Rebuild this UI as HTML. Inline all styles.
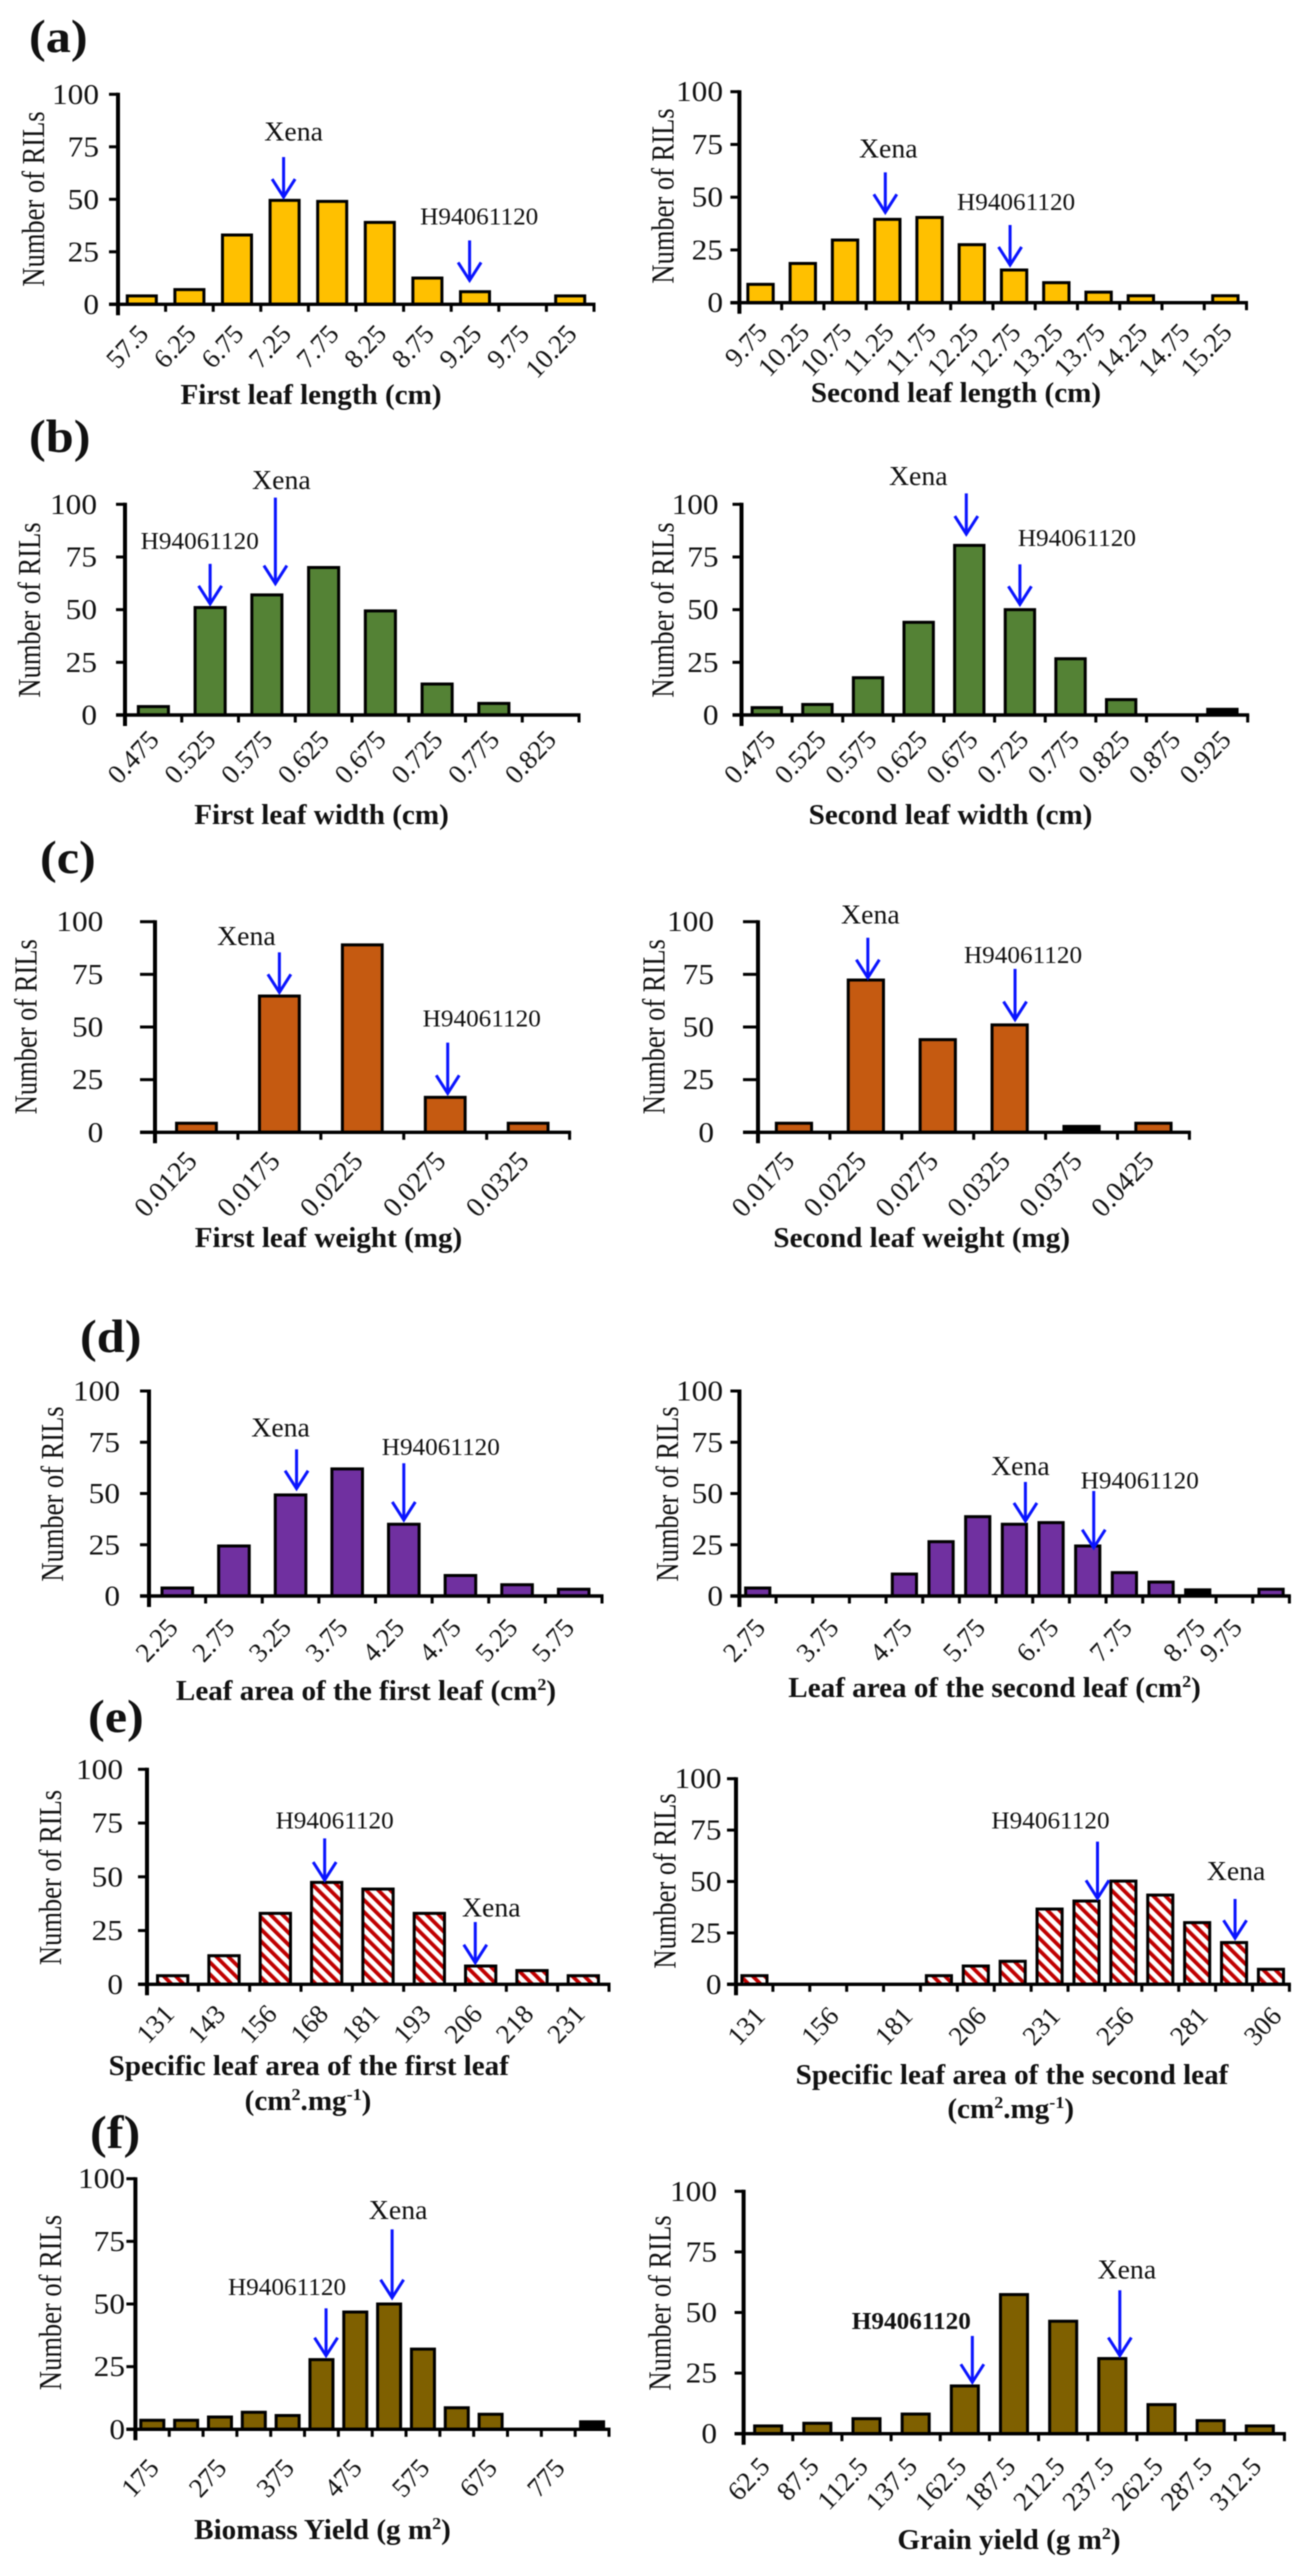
<!DOCTYPE html>
<html>
<head>
<meta charset="utf-8">
<title>Distribution of RILs</title>
<style>
html,body{margin:0;padding:0;background:#fff;}
svg{display:block;filter:blur(0.6px);}
text{font-family:"Liberation Serif",serif;fill:#111;}
</style>
</head>
<body>
<svg id="figure" xmlns="http://www.w3.org/2000/svg" width="1308" height="2573" viewBox="0 0 1308 2573">
<defs>
<pattern id="hatch" patternUnits="userSpaceOnUse" width="8.5" height="8.5" patternTransform="rotate(-45)">
<rect width="8.5" height="8.5" fill="#fff"/>
<rect width="3.8" height="8.5" fill="#c00000"/>
</pattern>
</defs>
</svg>
<script>
const yTickValues = [0, 25, 50, 75, 100];

const a1Categories = ['57.5','6.25','6.75','7.25','7.75','8.25','8.75','9.25','9.75','10.25'];
const a1Values = [4, 7, 33, 49.5, 49, 39, 12.5, 6, 0, 4];
const a2Categories = ['9.75','10.25','10.75','11.25','11.75','12.25','12.75','13.25','13.75','14.25','14.75','15.25'];
const a2Values = [8.7, 18.6, 29.7, 39.5, 40.4, 27.5, 15.5, 9.5, 5, 3.3, 0, 3.3];
const b1Categories = ['0.475','0.525','0.575','0.625','0.675','0.725','0.775','0.825'];
const b1Values = [4, 51, 57, 70, 49.4, 14.7, 5.5, 0];
const b2Categories = ['0.475','0.525','0.575','0.625','0.675','0.725','0.775','0.825','0.875','0.925'];
const b2Values = [3.5, 5, 17.7, 44, 80.5, 50, 26.7, 7.3, 0, 2.7];
const c1Categories = ['0.0125','0.0175','0.0225','0.0275','0.0325'];
const c1Values = [4.3, 64.7, 89, 16.6, 4.3];
const c2Categories = ['0.0175','0.0225','0.0275','0.0325','0.0375','0.0425'];
const c2Values = [4.3, 72.3, 44, 51, 2.8, 4.3];
const d1Categories = ['2.25','2.75','3.25','3.75','4.25','4.75','5.25','5.75'];
const d1Values = [3.9, 24.4, 49.3, 62, 35, 10, 5.5, 3.3];
const d2Categories = ['2.75','','3.75','','4.75','','5.75','','6.75','','7.75','','8.75','9.75',''];
const d2Values = [3.9, 0, 0, 0, 10.7, 26.5, 38.7, 35, 35.8, 24.4, 11.4, 6.8, 3, 0, 3.3];
const e1Categories = ['131','143','156','168','181','193','206','218','231'];
const e1Values = [4, 13.3, 33, 47.4, 44.3, 33, 8.5, 6.4, 4];
const e2Categories = ['131','','156','','181','','206','','231','','256','','281','','306'];
const e2Values = [4.2, 0, 0, 0, 0, 4.2, 8.9, 11.2, 36.6, 40.5, 50.2, 43.4, 30, 20.3, 7.3];
const f1Categories = ['175','','275','','375','','475','','575','','675','','775',''];
const f1Values = [3.6, 3.6, 4.9, 6.8, 5.5, 27.8, 46.8, 50, 32, 8.6, 6, 0, 0, 3];
const f2Categories = ['62.5','87.5','112.5','137.5','162.5','187.5','212.5','237.5','262.5','287.5','312.5'];
const f2Values = [3.2, 4.3, 6.2, 8.1, 19.7, 57.4, 46.4, 31, 12, 5.4, 3.2];

const panelLetters = [
  ['(a)', 29, 52], ['(b)', 29, 452], ['(c)', 40, 873],
  ['(d)', 80, 1352], ['(e)', 88, 1732], ['(f)', 90, 2148]
];

const NS = 'http://www.w3.org/2000/svg';
const root = document.getElementById('figure');

function shape(tag, attrs, name) {
  const el = document.createElementNS(NS, tag);
  for (const k in attrs) el.setAttribute(k, attrs[k]);
  
  
  root.appendChild(el);
  return el;
}

function label(x, y, str, size, anchor, weight, rot, sx, name) {
  const el = document.createElementNS(NS, 'text');
  el.setAttribute('transform', 'translate(' + x + ',' + y + ') scale(' + sx + ',1) rotate(' + rot + ')');
  el.setAttribute('font-size', size);
  el.setAttribute('text-anchor', anchor);
  el.setAttribute('font-weight', weight);
  
  
  const parts = str.split('^');
  let raised = false;
  parts.forEach(function (p, i) {
    const t = document.createElementNS(NS, 'tspan');
    t.textContent = p;
    if (i % 2 === 1) {
      t.setAttribute('dy', -size * 0.36);
      t.setAttribute('font-size', size * 0.62);
      raised = true;
    } else if (raised) {
      t.setAttribute('dy', size * 0.36);
      raised = false;
    }
    el.appendChild(t);
  });
  root.appendChild(el);
  return el;
}

function drawChart(c) {
  const n = c.categories.length;
  const slot = (c.x1 - c.x0) / n;
  const xCenter = function (i) { return c.x0 + (i + 0.5) * slot; };
  const yScale = function (v) { return c.y0 - (c.y0 - c.y100) * v / 100; };
  const barW = slot * c.barFrac;

  c.values.forEach(function (v, i) {
    if (v <= 0) return;
    const top = yScale(v);
    const fill = v <= 3 ? '#000' : c.fill;
    shape('rect', {
      x: xCenter(i) - barW / 2, y: top, width: barW, height: c.y0 - top,
      fill: fill, stroke: '#000', 'stroke-width': 3
    }, c.id + '-bar-' + i);
  });

  shape('line', { x1: c.x0, y1: c.y100 - 1.5, x2: c.x0, y2: c.y0 + 11, stroke: '#000', 'stroke-width': 4 }, c.id + '-y-axis');
  shape('line', { x1: c.x0 - c.tickL, y1: c.y0, x2: c.x1 + 1.5, y2: c.y0, stroke: '#000', 'stroke-width': 3.4 }, c.id + '-x-axis');

  yTickValues.forEach(function (v) {
    const y = yScale(v);
    shape('line', { x1: c.x0 - c.tickL, y1: y, x2: c.x0, y2: y, stroke: '#000', 'stroke-width': 3 }, c.id + '-y-tick-' + v);
    label(c.yLabelRight, y + 9.5, String(v), 28.5, 'end', 'normal', 0, 1.1, c.id + '-y-tick-label-' + v);
  });

  for (let i = 1; i <= n; i++) {
    const tx = c.x0 + i * slot;
    shape('line', { x1: tx, y1: c.y0, x2: tx, y2: c.y0 + 7.5, stroke: '#000', 'stroke-width': 3 }, c.id + '-x-tick-' + i);
  }

  c.categories.forEach(function (s, i) {
    if (!s) return;
    label(xCenter(i) + c.lblDx, c.y0 + c.lblDy, s, c.lblSize, 'end', 'normal', -47, 1, c.id + '-x-tick-label-' + s);
  });

  label(c.yTitleX, c.yTitleY, 'Number of RILs', 26.5, 'middle', 'normal', -90, 1.2, c.id + '-y-axis-title');
  c.titles.forEach(function (t, i) {
    label(t[1], t[2], t[0], 28, 'middle', 'bold', 0, 1.04, c.id + '-x-axis-title-' + i);
  });

  c.arrows.forEach(function (a) {
    const ax = xCenter(a.slot) + a.dx;
    const tip = yScale(c.values[a.slot]) - a.gap;
    const tail = tip - a.len;
    const key = c.id + '-' + (a.text === 'Xena' ? 'xena' : 'h94061120');
    shape('line', { x1: ax, y1: tail, x2: ax, y2: tip, stroke: '#0a14ff', 'stroke-width': 3 }, key + '-arrow-shaft');
    shape('polyline', {
      points: (ax - 11.5) + ',' + (tip - 18) + ' ' + ax + ',' + tip + ' ' + (ax + 11.5) + ',' + (tip - 18),
      fill: 'none', stroke: '#0a14ff', 'stroke-width': 3
    }, key + '-arrow-head');
    if (a.text === 'Xena') {
      label(ax + a.tx, tail - a.ty, a.text, 27, 'middle', 'normal', 0, 1.03, key + '-label');
    } else {
      label(ax + a.tx, tail - a.ty, a.text, 24.5, 'middle', a.bold ? 'bold' : 'normal', 0, 1.03, key + '-label');
    }
  });
}

const YELLOW = '#ffc000', GREEN = '#548235', ORANGE = '#c55a11', PURPLE = '#7030a0', BROWN = '#7f6000', HATCH = 'url(#hatch)';

const charts = [
  { id:'first-leaf-length', categories:a1Categories, values:a1Values, fill:YELLOW, x0:118, x1:594, y100:94.3, y0:304.3, barFrac:0.61, tickL:9, yLabelRight:99, yTitleX:44, yTitleY:199, lblDx:8, lblDy:31, lblSize:27,
    titles:[['First leaf length (cm)',311,404]],
    arrows:[{text:'Xena',slot:3,dx:-1,gap:3.3,len:40,tx:10,ty:16.7},{text:'H94061120',slot:7,dx:-5.4,gap:11.3,len:40,tx:9.6,ty:16}] },
  { id:'second-leaf-length', categories:a2Categories, values:a2Values, fill:YELLOW, x0:739.4, x1:1246.5, y100:91.7, y0:302.7, barFrac:0.6, tickL:9, yLabelRight:723, yTitleX:673.6, yTitleY:196, lblDx:8, lblDy:31, lblSize:27,
    titles:[['Second leaf length (cm)',956,402]],
    arrows:[{text:'Xena',slot:3,dx:-2,gap:7,len:40,tx:3,ty:15},{text:'H94061120',slot:6,dx:-4,gap:5,len:40,tx:6,ty:15}] },
  { id:'first-leaf-width', categories:b1Categories, values:b1Values, fill:GREEN, x0:125, x1:579, y100:504.3, y0:715, barFrac:0.53, tickL:9, yLabelRight:97, yTitleX:40, yTitleY:610, lblDx:7, lblDy:26, lblSize:27,
    titles:[['First leaf width (cm)',321.5,824]],
    arrows:[{text:'H94061120',slot:1,dx:0,gap:3.7,len:40,tx:-10.4,ty:14.7},{text:'Xena',slot:2,dx:8.5,gap:11.3,len:86,tx:6,ty:8.7}] },
  { id:'second-leaf-width', categories:b2Categories, values:b2Values, fill:GREEN, x0:741.5, x1:1247.7, y100:504.3, y0:715, barFrac:0.58, tickL:9, yLabelRight:718.6, yTitleX:673.6, yTitleY:610, lblDx:10, lblDy:26, lblSize:27,
    titles:[['Second leaf width (cm)',950.5,824]],
    arrows:[{text:'Xena',slot:4,dx:-3,gap:11.3,len:40.7,tx:-48,ty:8.3},{text:'H94061120',slot:5,dx:0,gap:5.3,len:40,tx:57,ty:18.3}] },
  { id:'first-leaf-weight', categories:c1Categories, values:c1Values, fill:ORANGE, x0:155, x1:569.6, y100:921.7, y0:1132.3, barFrac:0.48, tickL:15, yLabelRight:103.3, yTitleX:36.7, yTitleY:1026.7, lblDx:2, lblDy:30, lblSize:28,
    titles:[['First leaf weight (mg)',328.5,1247]],
    arrows:[{text:'Xena',slot:1,dx:0,gap:3.7,len:40,tx:-33,ty:7.3},{text:'H94061120',slot:3,dx:2.5,gap:4,len:50.7,tx:34,ty:16}] },
  { id:'second-leaf-weight', categories:c2Categories, values:c2Values, fill:ORANGE, x0:758, x1:1189.4, y100:921.7, y0:1132.3, barFrac:0.49, tickL:15, yLabelRight:714, yTitleX:664.4, yTitleY:1026.7, lblDx:2, lblDy:30, lblSize:28,
    titles:[['Second leaf weight (mg)',921.7,1247]],
    arrows:[{text:'Xena',slot:1,dx:2,gap:2.3,len:40,tx:2.5,ty:14.3},{text:'H94061120',slot:3,dx:5.4,gap:5.3,len:50.7,tx:8,ty:5.7}] },
  { id:'leaf-area-first', categories:d1Categories, values:d1Values, fill:PURPLE, x0:149, x1:602, y100:1391, y0:1596, barFrac:0.54, tickL:9, yLabelRight:120, yTitleX:63, yTitleY:1494, lblDx:2, lblDy:33, lblSize:27,
    titles:[['Leaf area of the first leaf (cm^2^)',366,1700]],
    arrows:[{text:'Xena',slot:2,dx:6,gap:6.3,len:39.3,tx:-16,ty:12.7},{text:'H94061120',slot:4,dx:0,gap:4.3,len:56.7,tx:37,ty:8.3}] },
  { id:'leaf-area-second', categories:d2Categories, values:d2Values, fill:PURPLE, x0:739.4, x1:1289.4, y100:1391, y0:1596, barFrac:0.66, tickL:9, yLabelRight:723, yTitleX:677.8, yTitleY:1494, lblDx:9, lblDy:33, lblSize:27,
    titles:[['Leaf area of the second leaf (cm^2^)',994.6,1697]],
    arrows:[{text:'Xena',slot:7,dx:11,gap:3.3,len:39,tx:-5,ty:7},{text:'H94061120',slot:9,dx:6,gap:-1.7,len:56.7,tx:46,ty:2.7}] },
  { id:'specific-leaf-area-first', categories:e1Categories, values:e1Values, fill:HATCH, x0:147, x1:609, y100:1769.3, y0:1984.3, barFrac:0.59, tickL:9, yLabelRight:123, yTitleX:61, yTitleY:1877.5, lblDx:3, lblDy:31, lblSize:27,
    titles:[['Specific leaf area of the first leaf',308.8,2075],['(cm^2^.mg^-1^)',308,2110]],
    arrows:[{text:'H94061120',slot:3,dx:-2,gap:2.3,len:41.7,tx:10,ty:10},{text:'Xena',slot:6,dx:-5.4,gap:3.3,len:40.7,tx:16,ty:5.3}] },
  { id:'specific-leaf-area-second', categories:e2Categories, values:e2Values, fill:HATCH, x0:736, x1:1289.4, y100:1778.7, y0:1984.3, barFrac:0.68, tickL:9, yLabelRight:721.5, yTitleX:675.7, yTitleY:1881, lblDx:12, lblDy:33, lblSize:27,
    titles:[['Specific leaf area of the second leaf',1012,2084],['(cm^2^.mg^-1^)',1010.7,2118]],
    arrows:[{text:'H94061120',slot:9,dx:11,gap:2.7,len:56.7,tx:-47,ty:13.3},{text:'Xena',slot:13,dx:1,gap:4.3,len:39.3,tx:1,ty:19}] },
  { id:'biomass-yield', categories:f1Categories, values:f1Values, fill:BROWN, x0:135.4, x1:609, y100:2178.7, y0:2429.3, barFrac:0.68, tickL:9, yLabelRight:125, yTitleX:61, yTitleY:2302.5, lblDx:8, lblDy:40, lblSize:27,
    titles:[['Biomass Yield (g m^2^)',322.5,2539]],
    arrows:[{text:'H94061120',slot:5,dx:4.6,gap:4,len:47.3,tx:-39,ty:13.3},{text:'Xena',slot:7,dx:3,gap:6.3,len:68.3,tx:6,ty:10.3}] },
  { id:'grain-yield', categories:f2Categories, values:f2Values, fill:BROWN, x0:743.6, x1:1284.4, y100:2191.3, y0:2433.7, barFrac:0.55, tickL:9, yLabelRight:717, yTitleX:670.7, yTitleY:2303, lblDx:3, lblDy:34, lblSize:27,
    titles:[['Grain yield (g m^2^)',1009,2549]],
    arrows:[{text:'H94061120',slot:4,dx:7.5,gap:3.7,len:46.3,tx:-61,ty:6.7,bold:true},{text:'Xena',slot:7,dx:7.5,gap:3,len:65.3,tx:7,ty:12}] }
];

charts.forEach(drawChart);

panelLetters.forEach(function (p) {
  label(p[1], p[2], p[0], 47, 'start', 'bold', 0, 1.07, 'panel-label-' + p[0].charAt(1));
});
</script>
</body>
</html>
